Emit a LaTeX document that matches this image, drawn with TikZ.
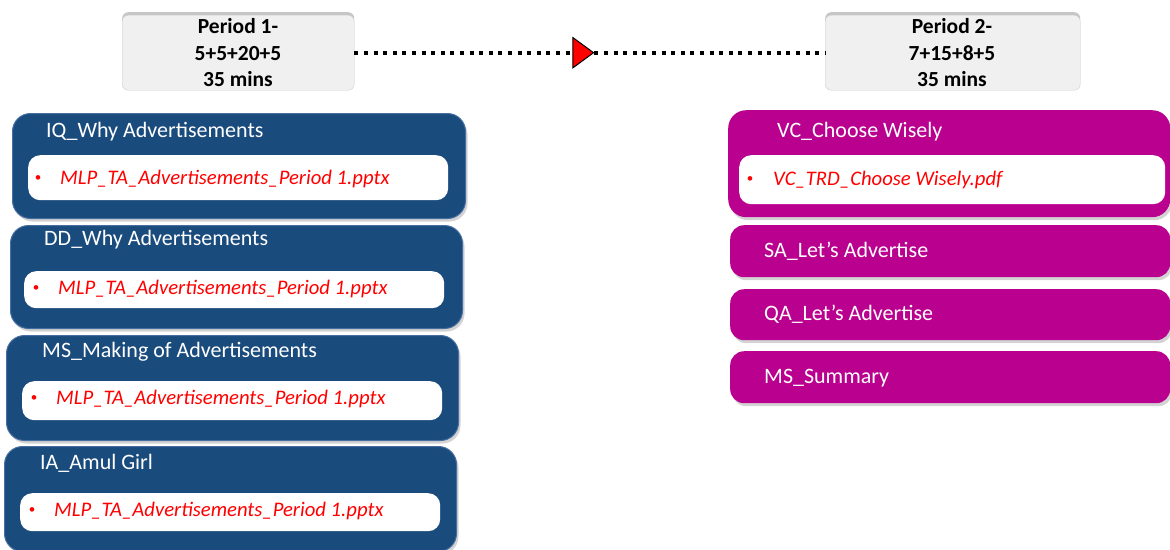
\documentclass[tikz,border=0pt]{standalone}
\usepackage{fontspec}
\setmainfont{Carlito}
\usetikzlibrary{shadows,arrows.meta,decorations.markings}
\definecolor{boxblue}{RGB}{26,75,125}
\definecolor{boxblueedge}{RGB}{70,110,160}
\definecolor{boxmag}{RGB}{186,0,142}
\definecolor{periodgray}{RGB}{240,240,240}
\tikzset{
  periodbox/.style={draw=gray!40, fill=periodgray, rounded corners=6pt, anchor=north west,
    drop shadow={shadow xshift=0pt, shadow yshift=3pt, opacity=0.45, fill=gray}},
  bluebox/.style={draw=boxblueedge, line width=1pt, fill=boxblue, rounded corners=18pt, anchor=north west,
    drop shadow={shadow xshift=2pt, shadow yshift=-3pt, opacity=0.35, fill=gray}},
  magbox/.style={fill=boxmag, rounded corners=14pt, anchor=north west,
    drop shadow={shadow xshift=2pt, shadow yshift=-3pt, opacity=0.35, fill=gray}},
  innerbox/.style={fill=white, rounded corners=12pt, anchor=north west},
  boxtitle/.style={text=white, font=\fontsize{22}{26}\selectfont, anchor=west, inner sep=0pt},
  filetext/.style={text=red, font=\fontsize{20.7}{24}\selectfont\itshape, anchor=west, inner sep=0pt},
  bulletmark/.style={text=red, font=\fontsize{13}{15}\selectfont, anchor=center, inner sep=0pt},
  periodtext/.style={font=\fontsize{21.5}{26.5}\selectfont\bfseries, align=center, inner sep=0pt},
}
\begin{document}
\begin{tikzpicture}[x=1pt,y=-1pt]
\useasboundingbox (0,0) rectangle (1170,549);
% period boxes
\node[periodbox, minimum width=232, minimum height=75] (p1) at (122,15) {};
\node[periodtext] (p1t) at (238,53) {Period 1-\\5+5+20+5\\35 mins};
\node[periodbox, minimum width=255, minimum height=75] (p2) at (825,15) {};
\node[periodtext] (p2t) at (952,53) {Period 2-\\7+15+8+5\\35 mins};
\draw[line width=4pt, dash pattern=on 4pt off 5.6pt,
  postaction={decorate, decoration={markings, mark=at position 0.51 with {\arrow{Triangle[length=22pt,width=32pt,fill=red,line width=1pt]}}}}]
  (p1.east) -- (p2.west);
% left column
\node[bluebox, minimum width=453, minimum height=105] (iq) at (12,113) {};
\node[innerbox, minimum width=420, minimum height=45] (iqf) at (28,155) {};
\node[boxtitle] (iqt) at (46,132) {IQ\_Why Advertisements};
\node[bulletmark] (iqb) at (38,179) {•};
\node[filetext] (iqx) at (60,179) {MLP\_TA\_Advertisements\_Period 1.pptx};

\node[bluebox, minimum width=452, minimum height=103] (dd) at (10,225) {};
\node[innerbox, minimum width=420, minimum height=37] (ddf) at (24,271) {};
\node[boxtitle] (ddt) at (44,240) {DD\_Why Advertisements};
\node[bulletmark] (ddb) at (36,289) {•};
\node[filetext] (ddx) at (58,289) {MLP\_TA\_Advertisements\_Period 1.pptx};

\node[bluebox, minimum width=452, minimum height=105] (ms) at (6,335) {};
\node[innerbox, minimum width=420, minimum height=39] (msf) at (22,381) {};
\node[boxtitle] (mst) at (42,352) {MS\_Making of Advertisements};
\node[bulletmark] (msb) at (34,399) {•};
\node[filetext] (msx) at (56,399) {MLP\_TA\_Advertisements\_Period 1.pptx};

\node[bluebox, minimum width=452, minimum height=105] (ia) at (4,446) {};
\node[innerbox, minimum width=420, minimum height=38] (iaf) at (20,493) {};
\node[boxtitle] (iat) at (40,463) {IA\_Amul Girl};
\node[bulletmark] (iab) at (32,511) {•};
\node[filetext] (iax) at (54,511) {MLP\_TA\_Advertisements\_Period 1.pptx};
% right column
\node[magbox, minimum width=442, minimum height=107, rounded corners=18pt] (vc) at (728,110) {};
\node[innerbox, minimum width=426, minimum height=49] (vcf) at (739,155) {};
\node[boxtitle] (vct) at (777,132) {VC\_Choose Wisely};
\node[bulletmark] (vcb) at (750,180) {•};
\node[filetext] (vcx) at (773,180) {VC\_TRD\_Choose Wisely.pdf};

\node[magbox, minimum width=440, minimum height=52] (sa) at (730,225) {};
\node[boxtitle] (sat) at (764,251) {SA\_Let’s Advertise};
\node[magbox, minimum width=440, minimum height=51] (qa) at (730,289) {};
\node[boxtitle] (qat) at (764,314) {QA\_Let’s Advertise};
\node[magbox, minimum width=440, minimum height=52] (sm) at (730,351) {};
\node[boxtitle] (smt) at (764,378) {MS\_Summary};
\end{tikzpicture}
\end{document}
